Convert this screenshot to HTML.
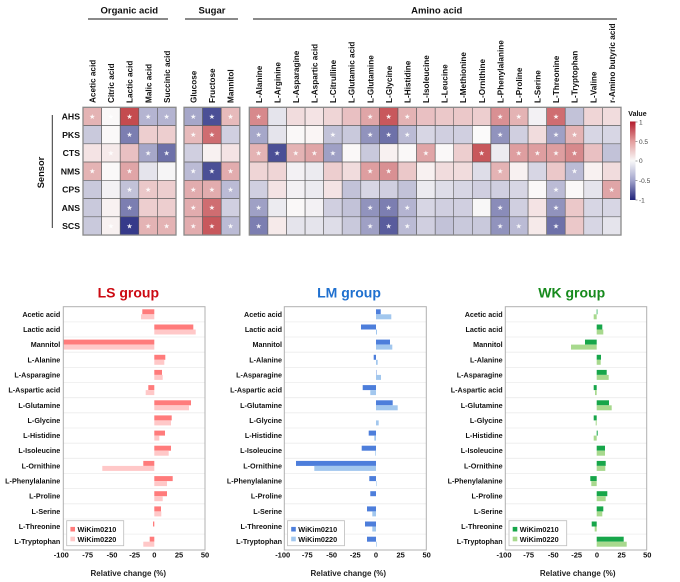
<!DOCTYPE html>
<html><head><meta charset="utf-8">
<style>
html,body{margin:0;padding:0;background:#fff;}
svg{display:block;font-family:"Liberation Sans",Arial,sans-serif;}
.hm rect{stroke:#5a5a5a;stroke-width:0.6;}
.st{fill:#fff;font-family:"DejaVu Sans",sans-serif;font-size:7px;text-anchor:middle;opacity:0.9;}
.cl{font-size:8.2px;font-weight:bold;fill:#111;}
.rl{font-size:8.7px;font-weight:bold;text-anchor:end;fill:#111;}
.gt{font-size:9.5px;font-weight:bold;text-anchor:middle;fill:#111;}
.bl{font-size:7.2px;font-weight:bold;text-anchor:end;fill:#111;}
.tk{font-size:7.5px;font-weight:bold;text-anchor:middle;fill:#111;}
.xl{font-size:8px;font-weight:bold;text-anchor:middle;fill:#222;}
.lg{font-size:7.3px;font-weight:bold;fill:#111;}
.ti{font-size:14px;font-weight:bold;text-anchor:middle;}
.cb{font-size:6.5px;fill:#444;}
.grid line{stroke:#ececec;stroke-width:0.8;}
</style></head>
<body>
<svg width="680" height="582" viewBox="0 0 680 582" xmlns="http://www.w3.org/2000/svg">
<defs>
<linearGradient id="cbg" x1="0" y1="0" x2="0" y2="1">
<stop offset="0" stop-color="#b31b2c"/>
<stop offset="0.25" stop-color="#e39c9c"/>
<stop offset="0.5" stop-color="#f8f8f8"/>
<stop offset="0.75" stop-color="#a2a4cc"/>
<stop offset="1" stop-color="#20237a"/>
</linearGradient>
</defs>

<!-- Group headers -->
<text class="gt" x="129.3" y="13.5">Organic acid</text>
<text class="gt" x="212" y="13.5">Sugar</text>
<text class="gt" x="436.7" y="13.5">Amino acid</text>
<line x1="88" y1="19" x2="168" y2="19" stroke="#444" stroke-width="1.3"/>
<line x1="185" y1="19" x2="238" y2="19" stroke="#444" stroke-width="1.3"/>
<line x1="253" y1="19" x2="617" y2="19" stroke="#444" stroke-width="1.3"/>

<!-- Column labels -->
<text class="cl" transform="translate(95.5,103) rotate(-90)">Acetic acid</text>
<text class="cl" transform="translate(114.1,103) rotate(-90)">Citric acid</text>
<text class="cl" transform="translate(132.7,103) rotate(-90)">Lactic acid</text>
<text class="cl" transform="translate(151.3,103) rotate(-90)">Malic acid</text>
<text class="cl" transform="translate(169.9,103) rotate(-90)">Succinic acid</text>
<text class="cl" transform="translate(196.5,103) rotate(-90)">Glucose</text>
<text class="cl" transform="translate(215.1,103) rotate(-90)">Fructose</text>
<text class="cl" transform="translate(233.7,103) rotate(-90)">Mannitol</text>
<text class="cl" transform="translate(261.8,103) rotate(-90)">L-Alanine</text>
<text class="cl" transform="translate(280.4,103) rotate(-90)">L-Arginine</text>
<text class="cl" transform="translate(299,103) rotate(-90)">L-Asparagine</text>
<text class="cl" transform="translate(317.6,103) rotate(-90)">L-Aspartic acid</text>
<text class="cl" transform="translate(336.1,103) rotate(-90)">L-Citrulline</text>
<text class="cl" transform="translate(354.7,103) rotate(-90)">L-Glutamic acid</text>
<text class="cl" transform="translate(373.3,103) rotate(-90)">L-Glutamine</text>
<text class="cl" transform="translate(391.9,103) rotate(-90)">L-Glycine</text>
<text class="cl" transform="translate(410.5,103) rotate(-90)">L-Histidine</text>
<text class="cl" transform="translate(429.1,103) rotate(-90)">L-Isoleucine</text>
<text class="cl" transform="translate(447.7,103) rotate(-90)">L-Leucine</text>
<text class="cl" transform="translate(466.2,103) rotate(-90)">L-Methionine</text>
<text class="cl" transform="translate(484.8,103) rotate(-90)">L-Ornithine</text>
<text class="cl" transform="translate(503.4,103) rotate(-90)">L-Phenylalanine</text>
<text class="cl" transform="translate(522,103) rotate(-90)">L-Proline</text>
<text class="cl" transform="translate(540.6,103) rotate(-90)">L-Serine</text>
<text class="cl" transform="translate(559.2,103) rotate(-90)">L-Threonine</text>
<text class="cl" transform="translate(577.7,103) rotate(-90)">L-Tryptophan</text>
<text class="cl" transform="translate(596.3,103) rotate(-90)">L-Valine</text>
<text class="cl" transform="translate(614.9,103) rotate(-90)">r-Amino butyric acid</text>

<!-- Sensor label -->
<text transform="translate(44,172.5) rotate(-90)" font-size="9.3" font-weight="bold" text-anchor="middle" fill="#111">Sensor</text>
<line x1="52.3" y1="115" x2="52.3" y2="228" stroke="#333" stroke-width="1"/>

<!-- Row labels -->
<text class="rl" x="80" y="119.5">AHS</text>
<text class="rl" x="80" y="137.8">PKS</text>
<text class="rl" x="80" y="156">CTS</text>
<text class="rl" x="80" y="174.3">NMS</text>
<text class="rl" x="80" y="192.5">CPS</text>
<text class="rl" x="80" y="210.8">ANS</text>
<text class="rl" x="80" y="229">SCS</text>

<!-- Heatmap -->
<g class="hm">
<!-- AHS -->
<g transform="translate(0,107.3)">
<rect x="83" y="0" width="18.6" height="18.25" fill="#e4b3b4"/>
<rect x="101.6" y="0" width="18.6" height="18.25" fill="#faf8f8"/>
<rect x="120.2" y="0" width="18.6" height="18.25" fill="#c44b4f"/>
<rect x="138.8" y="0" width="18.6" height="18.25" fill="#b4b4d1"/>
<rect x="157.4" y="0" width="18.6" height="18.25" fill="#b4b4d1"/>
<rect x="184" y="0" width="18.6" height="18.25" fill="#a6a7c9"/>
<rect x="202.6" y="0" width="18.6" height="18.25" fill="#4b4f96"/>
<rect x="221.2" y="0" width="18.6" height="18.25" fill="#e7babb"/>
<rect x="249.3" y="0" width="18.6" height="18.25" fill="#d7898c"/>
<rect x="267.9" y="0" width="18.6" height="18.25" fill="#e5e4ec"/>
<rect x="286.5" y="0" width="18.6" height="18.25" fill="#f1dcdd"/>
<rect x="305.1" y="0" width="18.6" height="18.25" fill="#f4e3e4"/>
<rect x="323.6" y="0" width="18.6" height="18.25" fill="#efd5d6"/>
<rect x="342.2" y="0" width="18.6" height="18.25" fill="#e9c0c2"/>
<rect x="360.8" y="0" width="18.6" height="18.25" fill="#e0a5a7"/>
<rect x="379.4" y="0" width="18.6" height="18.25" fill="#c8585c"/>
<rect x="398" y="0" width="18.6" height="18.25" fill="#e4b3b4"/>
<rect x="416.6" y="0" width="18.6" height="18.25" fill="#e9c0c2"/>
<rect x="435.2" y="0" width="18.6" height="18.25" fill="#ebc8c9"/>
<rect x="453.7" y="0" width="18.6" height="18.25" fill="#ebc8c9"/>
<rect x="472.3" y="0" width="18.6" height="18.25" fill="#edcecf"/>
<rect x="490.9" y="0" width="18.6" height="18.25" fill="#d99093"/>
<rect x="509.5" y="0" width="18.6" height="18.25" fill="#e4b3b4"/>
<rect x="528.1" y="0" width="18.6" height="18.25" fill="#f3f1f4"/>
<rect x="546.7" y="0" width="18.6" height="18.25" fill="#cf6d71"/>
<rect x="565.2" y="0" width="18.6" height="18.25" fill="#c2c2d8"/>
<rect x="583.8" y="0" width="18.6" height="18.25" fill="#efd5d6"/>
<rect x="602.4" y="0" width="18.6" height="18.25" fill="#f1dcdd"/>
<text class="st" x="92.3" y="11.5">★</text><text class="st" x="110.9" y="11.5">★</text><text class="st" x="129.5" y="11.5">★</text><text class="st" x="148.1" y="11.5">★</text><text class="st" x="166.7" y="11.5">★</text><text class="st" x="193.3" y="11.5">★</text><text class="st" x="211.9" y="11.5">★</text><text class="st" x="230.5" y="11.5">★</text><text class="st" x="258.6" y="11.5">★</text><text class="st" x="370.1" y="11.5">★</text><text class="st" x="388.7" y="11.5">★</text><text class="st" x="407.3" y="11.5">★</text><text class="st" x="500.2" y="11.5">★</text><text class="st" x="518.8" y="11.5">★</text><text class="st" x="556" y="11.5">★</text>
</g>
<!-- PKS -->
<g transform="translate(0,125.55)">
<rect x="83" y="0" width="18.6" height="18.25" fill="#c9c9dc"/>
<rect x="101.6" y="0" width="18.6" height="18.25" fill="#faf8f8"/>
<rect x="120.2" y="0" width="18.6" height="18.25" fill="#7c7eb1"/>
<rect x="138.8" y="0" width="18.6" height="18.25" fill="#edcecf"/>
<rect x="157.4" y="0" width="18.6" height="18.25" fill="#edcecf"/>
<rect x="184" y="0" width="18.6" height="18.25" fill="#e7babb"/>
<rect x="202.6" y="0" width="18.6" height="18.25" fill="#cf6d71"/>
<rect x="221.2" y="0" width="18.6" height="18.25" fill="#d0cfe0"/>
<rect x="249.3" y="0" width="18.6" height="18.25" fill="#a6a7c9"/>
<rect x="267.9" y="0" width="18.6" height="18.25" fill="#e5e4ec"/>
<rect x="286.5" y="0" width="18.6" height="18.25" fill="#faf8f8"/>
<rect x="305.1" y="0" width="18.6" height="18.25" fill="#faf5f5"/>
<rect x="323.6" y="0" width="18.6" height="18.25" fill="#c2c2d8"/>
<rect x="342.2" y="0" width="18.6" height="18.25" fill="#c9c9dc"/>
<rect x="360.8" y="0" width="18.6" height="18.25" fill="#9193bd"/>
<rect x="379.4" y="0" width="18.6" height="18.25" fill="#6e71a9"/>
<rect x="398" y="0" width="18.6" height="18.25" fill="#bbbbd5"/>
<rect x="416.6" y="0" width="18.6" height="18.25" fill="#d7d6e4"/>
<rect x="435.2" y="0" width="18.6" height="18.25" fill="#d0cfe0"/>
<rect x="453.7" y="0" width="18.6" height="18.25" fill="#d0cfe0"/>
<rect x="472.3" y="0" width="18.6" height="18.25" fill="#fbfafa"/>
<rect x="490.9" y="0" width="18.6" height="18.25" fill="#9193bd"/>
<rect x="509.5" y="0" width="18.6" height="18.25" fill="#d0cfe0"/>
<rect x="528.1" y="0" width="18.6" height="18.25" fill="#f1dcdd"/>
<rect x="546.7" y="0" width="18.6" height="18.25" fill="#9fa0c5"/>
<rect x="565.2" y="0" width="18.6" height="18.25" fill="#e4b3b4"/>
<rect x="583.8" y="0" width="18.6" height="18.25" fill="#d7d6e4"/>
<rect x="602.4" y="0" width="18.6" height="18.25" fill="#d7d6e4"/>
<text class="st" x="129.5" y="11.5">★</text><text class="st" x="193.3" y="11.5">★</text><text class="st" x="211.9" y="11.5">★</text><text class="st" x="258.6" y="11.5">★</text><text class="st" x="332.9" y="11.5">★</text><text class="st" x="370.1" y="11.5">★</text><text class="st" x="388.7" y="11.5">★</text><text class="st" x="407.3" y="11.5">★</text><text class="st" x="500.2" y="11.5">★</text><text class="st" x="556" y="11.5">★</text><text class="st" x="574.5" y="11.5">★</text>
</g>
<!-- CTS -->
<g transform="translate(0,143.8)">
<rect x="83" y="0" width="18.6" height="18.25" fill="#f4e3e4"/>
<rect x="101.6" y="0" width="18.6" height="18.25" fill="#f6eaea"/>
<rect x="120.2" y="0" width="18.6" height="18.25" fill="#e9c0c2"/>
<rect x="138.8" y="0" width="18.6" height="18.25" fill="#a6a7c9"/>
<rect x="157.4" y="0" width="18.6" height="18.25" fill="#6e71a9"/>
<rect x="184" y="0" width="18.6" height="18.25" fill="#d0cfe0"/>
<rect x="202.6" y="0" width="18.6" height="18.25" fill="#f8f1f1"/>
<rect x="221.2" y="0" width="18.6" height="18.25" fill="#f4e3e4"/>
<rect x="249.3" y="0" width="18.6" height="18.25" fill="#e4b3b4"/>
<rect x="267.9" y="0" width="18.6" height="18.25" fill="#4b4f96"/>
<rect x="286.5" y="0" width="18.6" height="18.25" fill="#e4b3b4"/>
<rect x="305.1" y="0" width="18.6" height="18.25" fill="#e0a5a7"/>
<rect x="323.6" y="0" width="18.6" height="18.25" fill="#9fa0c5"/>
<rect x="342.2" y="0" width="18.6" height="18.25" fill="#faf8f8"/>
<rect x="360.8" y="0" width="18.6" height="18.25" fill="#c9c9dc"/>
<rect x="379.4" y="0" width="18.6" height="18.25" fill="#f8f1f1"/>
<rect x="398" y="0" width="18.6" height="18.25" fill="#faf8f8"/>
<rect x="416.6" y="0" width="18.6" height="18.25" fill="#e0a5a7"/>
<rect x="435.2" y="0" width="18.6" height="18.25" fill="#faf8f8"/>
<rect x="453.7" y="0" width="18.6" height="18.25" fill="#edcecf"/>
<rect x="472.3" y="0" width="18.6" height="18.25" fill="#c8585c"/>
<rect x="490.9" y="0" width="18.6" height="18.25" fill="#ecebf0"/>
<rect x="509.5" y="0" width="18.6" height="18.25" fill="#de9ea0"/>
<rect x="528.1" y="0" width="18.6" height="18.25" fill="#de9ea0"/>
<rect x="546.7" y="0" width="18.6" height="18.25" fill="#de9ea0"/>
<rect x="565.2" y="0" width="18.6" height="18.25" fill="#d7898c"/>
<rect x="583.8" y="0" width="18.6" height="18.25" fill="#e9c0c2"/>
<rect x="602.4" y="0" width="18.6" height="18.25" fill="#c2c2d8"/>
<text class="st" x="110.9" y="11.5">★</text><text class="st" x="148.1" y="11.5">★</text><text class="st" x="166.7" y="11.5">★</text><text class="st" x="258.6" y="11.5">★</text><text class="st" x="277.2" y="11.5">★</text><text class="st" x="295.8" y="11.5">★</text><text class="st" x="314.4" y="11.5">★</text><text class="st" x="332.9" y="11.5">★</text><text class="st" x="425.9" y="11.5">★</text><text class="st" x="481.6" y="11.5">★</text><text class="st" x="518.8" y="11.5">★</text><text class="st" x="537.4" y="11.5">★</text><text class="st" x="556" y="11.5">★</text><text class="st" x="574.5" y="11.5">★</text>
</g>
<!-- NMS -->
<g transform="translate(0,162.05)">
<rect x="83" y="0" width="18.6" height="18.25" fill="#e4b3b4"/>
<rect x="101.6" y="0" width="18.6" height="18.25" fill="#faf8f8"/>
<rect x="120.2" y="0" width="18.6" height="18.25" fill="#e0a5a7"/>
<rect x="138.8" y="0" width="18.6" height="18.25" fill="#e5e4ec"/>
<rect x="157.4" y="0" width="18.6" height="18.25" fill="#f6f5f6"/>
<rect x="184" y="0" width="18.6" height="18.25" fill="#bbbbd5"/>
<rect x="202.6" y="0" width="18.6" height="18.25" fill="#4b4f96"/>
<rect x="221.2" y="0" width="18.6" height="18.25" fill="#e2acae"/>
<rect x="249.3" y="0" width="18.6" height="18.25" fill="#efd5d6"/>
<rect x="267.9" y="0" width="18.6" height="18.25" fill="#efd5d6"/>
<rect x="286.5" y="0" width="18.6" height="18.25" fill="#f3f1f4"/>
<rect x="305.1" y="0" width="18.6" height="18.25" fill="#ecebf0"/>
<rect x="323.6" y="0" width="18.6" height="18.25" fill="#edcecf"/>
<rect x="342.2" y="0" width="18.6" height="18.25" fill="#f1dcdd"/>
<rect x="360.8" y="0" width="18.6" height="18.25" fill="#de9ea0"/>
<rect x="379.4" y="0" width="18.6" height="18.25" fill="#d99093"/>
<rect x="398" y="0" width="18.6" height="18.25" fill="#ebc8c9"/>
<rect x="416.6" y="0" width="18.6" height="18.25" fill="#f8f1f1"/>
<rect x="435.2" y="0" width="18.6" height="18.25" fill="#f1dcdd"/>
<rect x="453.7" y="0" width="18.6" height="18.25" fill="#f1dcdd"/>
<rect x="472.3" y="0" width="18.6" height="18.25" fill="#dedde8"/>
<rect x="490.9" y="0" width="18.6" height="18.25" fill="#e4b3b4"/>
<rect x="509.5" y="0" width="18.6" height="18.25" fill="#f8f1f1"/>
<rect x="528.1" y="0" width="18.6" height="18.25" fill="#d7d6e4"/>
<rect x="546.7" y="0" width="18.6" height="18.25" fill="#ebc8c9"/>
<rect x="565.2" y="0" width="18.6" height="18.25" fill="#bbbbd5"/>
<rect x="583.8" y="0" width="18.6" height="18.25" fill="#f8f1f1"/>
<rect x="602.4" y="0" width="18.6" height="18.25" fill="#f1dcdd"/>
<text class="st" x="92.3" y="11.5">★</text><text class="st" x="129.5" y="11.5">★</text><text class="st" x="193.3" y="11.5">★</text><text class="st" x="211.9" y="11.5">★</text><text class="st" x="230.5" y="11.5">★</text><text class="st" x="370.1" y="11.5">★</text><text class="st" x="388.7" y="11.5">★</text><text class="st" x="500.2" y="11.5">★</text><text class="st" x="574.5" y="11.5">★</text>
</g>
<!-- CPS -->
<g transform="translate(0,180.3)">
<rect x="83" y="0" width="18.6" height="18.25" fill="#c9c9dc"/>
<rect x="101.6" y="0" width="18.6" height="18.25" fill="#f3f1f4"/>
<rect x="120.2" y="0" width="18.6" height="18.25" fill="#c2c2d8"/>
<rect x="138.8" y="0" width="18.6" height="18.25" fill="#ebc8c9"/>
<rect x="157.4" y="0" width="18.6" height="18.25" fill="#edcecf"/>
<rect x="184" y="0" width="18.6" height="18.25" fill="#e2acae"/>
<rect x="202.6" y="0" width="18.6" height="18.25" fill="#e2acae"/>
<rect x="221.2" y="0" width="18.6" height="18.25" fill="#bbbbd5"/>
<rect x="249.3" y="0" width="18.6" height="18.25" fill="#d0cfe0"/>
<rect x="267.9" y="0" width="18.6" height="18.25" fill="#f4e3e4"/>
<rect x="286.5" y="0" width="18.6" height="18.25" fill="#f3f1f4"/>
<rect x="305.1" y="0" width="18.6" height="18.25" fill="#ecebf0"/>
<rect x="323.6" y="0" width="18.6" height="18.25" fill="#f4e3e4"/>
<rect x="342.2" y="0" width="18.6" height="18.25" fill="#c2c2d8"/>
<rect x="360.8" y="0" width="18.6" height="18.25" fill="#d7d6e4"/>
<rect x="379.4" y="0" width="18.6" height="18.25" fill="#d0cfe0"/>
<rect x="398" y="0" width="18.6" height="18.25" fill="#c2c2d8"/>
<rect x="416.6" y="0" width="18.6" height="18.25" fill="#ecebf0"/>
<rect x="435.2" y="0" width="18.6" height="18.25" fill="#dedde8"/>
<rect x="453.7" y="0" width="18.6" height="18.25" fill="#d7d6e4"/>
<rect x="472.3" y="0" width="18.6" height="18.25" fill="#d0cfe0"/>
<rect x="490.9" y="0" width="18.6" height="18.25" fill="#d0cfe0"/>
<rect x="509.5" y="0" width="18.6" height="18.25" fill="#d7d6e4"/>
<rect x="528.1" y="0" width="18.6" height="18.25" fill="#faf8f8"/>
<rect x="546.7" y="0" width="18.6" height="18.25" fill="#bbbbd5"/>
<rect x="565.2" y="0" width="18.6" height="18.25" fill="#faf8f8"/>
<rect x="583.8" y="0" width="18.6" height="18.25" fill="#e5e4ec"/>
<rect x="602.4" y="0" width="18.6" height="18.25" fill="#e0a5a7"/>
<text class="st" x="129.5" y="11.5">★</text><text class="st" x="148.1" y="11.5">★</text><text class="st" x="193.3" y="11.5">★</text><text class="st" x="211.9" y="11.5">★</text><text class="st" x="230.5" y="11.5">★</text><text class="st" x="556" y="11.5">★</text><text class="st" x="611.7" y="11.5">★</text>
</g>
<!-- ANS -->
<g transform="translate(0,198.55)">
<rect x="83" y="0" width="18.6" height="18.25" fill="#c9c9dc"/>
<rect x="101.6" y="0" width="18.6" height="18.25" fill="#f8f1f1"/>
<rect x="120.2" y="0" width="18.6" height="18.25" fill="#7c7eb1"/>
<rect x="138.8" y="0" width="18.6" height="18.25" fill="#edcecf"/>
<rect x="157.4" y="0" width="18.6" height="18.25" fill="#edcecf"/>
<rect x="184" y="0" width="18.6" height="18.25" fill="#e2acae"/>
<rect x="202.6" y="0" width="18.6" height="18.25" fill="#cf6d71"/>
<rect x="221.2" y="0" width="18.6" height="18.25" fill="#d0cfe0"/>
<rect x="249.3" y="0" width="18.6" height="18.25" fill="#9fa0c5"/>
<rect x="267.9" y="0" width="18.6" height="18.25" fill="#ecebf0"/>
<rect x="286.5" y="0" width="18.6" height="18.25" fill="#faf8f8"/>
<rect x="305.1" y="0" width="18.6" height="18.25" fill="#f3f1f4"/>
<rect x="323.6" y="0" width="18.6" height="18.25" fill="#d0cfe0"/>
<rect x="342.2" y="0" width="18.6" height="18.25" fill="#c2c2d8"/>
<rect x="360.8" y="0" width="18.6" height="18.25" fill="#9193bd"/>
<rect x="379.4" y="0" width="18.6" height="18.25" fill="#7c7eb1"/>
<rect x="398" y="0" width="18.6" height="18.25" fill="#b4b4d1"/>
<rect x="416.6" y="0" width="18.6" height="18.25" fill="#d7d6e4"/>
<rect x="435.2" y="0" width="18.6" height="18.25" fill="#d0cfe0"/>
<rect x="453.7" y="0" width="18.6" height="18.25" fill="#d0cfe0"/>
<rect x="472.3" y="0" width="18.6" height="18.25" fill="#f8f7f7"/>
<rect x="490.9" y="0" width="18.6" height="18.25" fill="#8a8cb9"/>
<rect x="509.5" y="0" width="18.6" height="18.25" fill="#d0cfe0"/>
<rect x="528.1" y="0" width="18.6" height="18.25" fill="#f4e3e4"/>
<rect x="546.7" y="0" width="18.6" height="18.25" fill="#9193bd"/>
<rect x="565.2" y="0" width="18.6" height="18.25" fill="#ebc8c9"/>
<rect x="583.8" y="0" width="18.6" height="18.25" fill="#d7d6e4"/>
<rect x="602.4" y="0" width="18.6" height="18.25" fill="#d7d6e4"/>
<text class="st" x="129.5" y="11.5">★</text><text class="st" x="193.3" y="11.5">★</text><text class="st" x="211.9" y="11.5">★</text><text class="st" x="258.6" y="11.5">★</text><text class="st" x="370.1" y="11.5">★</text><text class="st" x="388.7" y="11.5">★</text><text class="st" x="407.3" y="11.5">★</text><text class="st" x="500.2" y="11.5">★</text><text class="st" x="556" y="11.5">★</text>
</g>
<!-- SCS -->
<g transform="translate(0,216.8)">
<rect x="83" y="0" width="18.6" height="18.25" fill="#c9c9dc"/>
<rect x="101.6" y="0" width="18.6" height="18.25" fill="#f8f1f1"/>
<rect x="120.2" y="0" width="18.6" height="18.25" fill="#363a8a"/>
<rect x="138.8" y="0" width="18.6" height="18.25" fill="#e4b3b4"/>
<rect x="157.4" y="0" width="18.6" height="18.25" fill="#e4b3b4"/>
<rect x="184" y="0" width="18.6" height="18.25" fill="#e2acae"/>
<rect x="202.6" y="0" width="18.6" height="18.25" fill="#c8585c"/>
<rect x="221.2" y="0" width="18.6" height="18.25" fill="#bbbbd5"/>
<rect x="249.3" y="0" width="18.6" height="18.25" fill="#7c7eb1"/>
<rect x="267.9" y="0" width="18.6" height="18.25" fill="#f6eaea"/>
<rect x="286.5" y="0" width="18.6" height="18.25" fill="#e5e4ec"/>
<rect x="305.1" y="0" width="18.6" height="18.25" fill="#e5e4ec"/>
<rect x="323.6" y="0" width="18.6" height="18.25" fill="#dedde8"/>
<rect x="342.2" y="0" width="18.6" height="18.25" fill="#c9c9dc"/>
<rect x="360.8" y="0" width="18.6" height="18.25" fill="#9fa0c5"/>
<rect x="379.4" y="0" width="18.6" height="18.25" fill="#595c9d"/>
<rect x="398" y="0" width="18.6" height="18.25" fill="#bbbbd5"/>
<rect x="416.6" y="0" width="18.6" height="18.25" fill="#d0cfe0"/>
<rect x="435.2" y="0" width="18.6" height="18.25" fill="#c2c2d8"/>
<rect x="453.7" y="0" width="18.6" height="18.25" fill="#c9c9dc"/>
<rect x="472.3" y="0" width="18.6" height="18.25" fill="#c9c9dc"/>
<rect x="490.9" y="0" width="18.6" height="18.25" fill="#9193bd"/>
<rect x="509.5" y="0" width="18.6" height="18.25" fill="#bbbbd5"/>
<rect x="528.1" y="0" width="18.6" height="18.25" fill="#f6eaea"/>
<rect x="546.7" y="0" width="18.6" height="18.25" fill="#6e71a9"/>
<rect x="565.2" y="0" width="18.6" height="18.25" fill="#ebc8c9"/>
<rect x="583.8" y="0" width="18.6" height="18.25" fill="#d7d6e4"/>
<rect x="602.4" y="0" width="18.6" height="18.25" fill="#e5e4ec"/>
<text class="st" x="110.9" y="11.5">★</text><text class="st" x="129.5" y="11.5">★</text><text class="st" x="148.1" y="11.5">★</text><text class="st" x="166.7" y="11.5">★</text><text class="st" x="193.3" y="11.5">★</text><text class="st" x="211.9" y="11.5">★</text><text class="st" x="230.5" y="11.5">★</text><text class="st" x="258.6" y="11.5">★</text><text class="st" x="370.1" y="11.5">★</text><text class="st" x="388.7" y="11.5">★</text><text class="st" x="407.3" y="11.5">★</text><text class="st" x="500.2" y="11.5">★</text><text class="st" x="518.8" y="11.5">★</text><text class="st" x="556" y="11.5">★</text>
</g>
</g>
<!-- heatmap block outlines -->
<rect x="83" y="107.3" width="93" height="127.75" fill="none" stroke="#8a8a8a" stroke-width="1.3"/>
<rect x="184" y="107.3" width="55.8" height="127.75" fill="none" stroke="#8a8a8a" stroke-width="1.3"/>
<rect x="249.3" y="107.3" width="371.7" height="127.75" fill="none" stroke="#8a8a8a" stroke-width="1.3"/>

<!-- Colorbar legend -->
<text x="628.3" y="116" font-size="7px" font-weight="bold" fill="#111">Value</text>
<rect x="630" y="121.5" width="5.5" height="78.5" fill="url(#cbg)"/>
<g stroke="#666" stroke-width="0.6">
<line x1="635.5" y1="122" x2="637.5" y2="122"/>
<line x1="635.5" y1="141.5" x2="637.5" y2="141.5"/>
<line x1="635.5" y1="161" x2="637.5" y2="161"/>
<line x1="635.5" y1="180.5" x2="637.5" y2="180.5"/>
<line x1="635.5" y1="200" x2="637.5" y2="200"/>
</g>
<text class="cb" x="639" y="124.5">1</text>
<text class="cb" x="639" y="144">0.5</text>
<text class="cb" x="639" y="163.2">0</text>
<text class="cb" x="639" y="183">-0.5</text>
<text class="cb" x="639" y="202.3">-1</text>

<!-- ===================== LS group ===================== -->
<text class="ti" x="128.3" y="297.3" fill="#cc0a12">LS group</text>
<g class="grid">
<line x1="63.3" x2="205" y1="321.9" y2="321.9"/><line x1="63.3" x2="205" y1="337" y2="337"/><line x1="63.3" x2="205" y1="352.2" y2="352.2"/><line x1="63.3" x2="205" y1="367.4" y2="367.4"/><line x1="63.3" x2="205" y1="382.5" y2="382.5"/><line x1="63.3" x2="205" y1="397.7" y2="397.7"/><line x1="63.3" x2="205" y1="412.8" y2="412.8"/><line x1="63.3" x2="205" y1="428" y2="428"/><line x1="63.3" x2="205" y1="443.2" y2="443.2"/><line x1="63.3" x2="205" y1="458.3" y2="458.3"/><line x1="63.3" x2="205" y1="473.5" y2="473.5"/><line x1="63.3" x2="205" y1="488.6" y2="488.6"/><line x1="63.3" x2="205" y1="503.8" y2="503.8"/><line x1="63.3" x2="205" y1="519" y2="519"/><line x1="63.3" x2="205" y1="534.1" y2="534.1"/>
</g>
<g fill="#ff7b7b">
<rect x="142.3" y="309.3" width="12" height="5"/>
<rect x="154.3" y="324.5" width="39" height="5"/>
<rect x="63.3" y="339.6" width="91" height="5"/>
<rect x="154.3" y="354.8" width="11" height="5"/>
<rect x="154.3" y="369.9" width="7.7" height="5"/>
<rect x="148.3" y="385.1" width="6" height="5"/>
<rect x="154.3" y="400.3" width="36.7" height="5"/>
<rect x="154.3" y="415.4" width="17.4" height="5"/>
<rect x="154.3" y="430.6" width="10.7" height="5"/>
<rect x="154.3" y="445.7" width="16.7" height="5"/>
<rect x="143.3" y="460.9" width="11" height="5"/>
<rect x="154.3" y="476.1" width="18.4" height="5"/>
<rect x="154.3" y="491.2" width="12.7" height="5"/>
<rect x="154.3" y="506.4" width="6.7" height="5"/>
<rect x="153" y="521.5" width="1.3" height="5"/>
<rect x="149.7" y="536.7" width="4.6" height="5"/>
</g>
<g fill="#ffc8c8">
<rect x="141" y="314.3" width="13.3" height="5"/>
<rect x="154.3" y="329.5" width="41.4" height="5"/>
<rect x="63.3" y="344.6" width="91" height="5"/>
<rect x="154.3" y="359.8" width="10" height="5"/>
<rect x="154.3" y="374.9" width="8.4" height="5"/>
<rect x="145.7" y="390.1" width="8.6" height="5"/>
<rect x="154.3" y="405.3" width="34.7" height="5"/>
<rect x="154.3" y="420.4" width="16.7" height="5"/>
<rect x="154.3" y="435.6" width="5" height="5"/>
<rect x="154.3" y="450.7" width="14.4" height="5"/>
<rect x="102.3" y="465.9" width="52" height="5"/>
<rect x="154.3" y="481.1" width="12.7" height="5"/>
<rect x="154.3" y="496.2" width="8.4" height="5"/>
<rect x="154.3" y="511.4" width="7" height="5"/>
<rect x="143.3" y="541.7" width="11" height="5"/>
</g>
<rect x="63.3" y="306.7" width="141.7" height="243.3" fill="none" stroke="#b0b0b0" stroke-width="1"/>
<g class="bl">
<text x="60.3" y="316.8">Acetic acid</text>
<text x="60.3" y="332">Lactic acid</text>
<text x="60.3" y="347.1">Mannitol</text>
<text x="60.3" y="362.3">L-Alanine</text>
<text x="60.3" y="377.4">L-Asparagine</text>
<text x="60.3" y="392.6">L-Aspartic acid</text>
<text x="60.3" y="407.8">L-Glutamine</text>
<text x="60.3" y="422.9">L-Glycine</text>
<text x="60.3" y="438.1">L-Histidine</text>
<text x="60.3" y="453.2">L-Isoleucine</text>
<text x="60.3" y="468.4">L-Ornithine</text>
<text x="60.3" y="483.6">L-Phenylalanine</text>
<text x="60.3" y="498.7">L-Proline</text>
<text x="60.3" y="513.9">L-Serine</text>
<text x="60.3" y="529">L-Threonine</text>
<text x="60.3" y="544.2">L-Tryptophan</text>
</g>
<g class="tk">
<text x="61.3" y="557.7">-100</text><text x="87.7" y="557.7">-75</text><text x="112" y="557.7">-50</text><text x="134.7" y="557.7">-25</text><text x="154.3" y="557.7">0</text><text x="179" y="557.7">25</text><text x="205" y="557.7">50</text>
</g>
<text class="xl" x="128.3" y="576">Relative change (%)</text>
<rect x="66.7" y="520.7" width="57" height="25" fill="#fff" stroke="#bdbdbd" stroke-width="0.8"/>
<rect x="70.4" y="526.9" width="4.6" height="4.6" fill="#ff7b7b"/>
<rect x="70.4" y="536.7" width="4.6" height="4.6" fill="#ffc8c8"/>
<text class="lg" x="77.5" y="532.2">WiKim0210</text>
<text class="lg" x="77.5" y="542">WiKim0220</text>

<!-- ===================== LM group ===================== -->
<text class="ti" x="349" y="297.3" fill="#1f70cf">LM group</text>
<g class="grid">
<line x1="284.3" x2="426.3" y1="321.9" y2="321.9"/><line x1="284.3" x2="426.3" y1="337" y2="337"/><line x1="284.3" x2="426.3" y1="352.2" y2="352.2"/><line x1="284.3" x2="426.3" y1="367.4" y2="367.4"/><line x1="284.3" x2="426.3" y1="382.5" y2="382.5"/><line x1="284.3" x2="426.3" y1="397.7" y2="397.7"/><line x1="284.3" x2="426.3" y1="412.8" y2="412.8"/><line x1="284.3" x2="426.3" y1="428" y2="428"/><line x1="284.3" x2="426.3" y1="443.2" y2="443.2"/><line x1="284.3" x2="426.3" y1="458.3" y2="458.3"/><line x1="284.3" x2="426.3" y1="473.5" y2="473.5"/><line x1="284.3" x2="426.3" y1="488.6" y2="488.6"/><line x1="284.3" x2="426.3" y1="503.8" y2="503.8"/><line x1="284.3" x2="426.3" y1="519" y2="519"/><line x1="284.3" x2="426.3" y1="534.1" y2="534.1"/>
</g>
<g fill="#4d7edb">
<rect x="376" y="309.3" width="4.7" height="5"/>
<rect x="361" y="324.5" width="15" height="5"/>
<rect x="376" y="339.6" width="14" height="5"/>
<rect x="373.7" y="354.8" width="2.3" height="5"/>
<rect x="376" y="369.9" width="0.4" height="5"/>
<rect x="362.7" y="385.1" width="13.3" height="5"/>
<rect x="376" y="400.3" width="16.7" height="5"/>
<rect x="368.7" y="430.6" width="7.3" height="5"/>
<rect x="361.7" y="445.7" width="14.3" height="5"/>
<rect x="296" y="460.9" width="80" height="5"/>
<rect x="369.3" y="476.1" width="6.7" height="5"/>
<rect x="370.3" y="491.2" width="5.7" height="5"/>
<rect x="367" y="506.4" width="9" height="5"/>
<rect x="365" y="521.5" width="11" height="5"/>
<rect x="367" y="536.7" width="9" height="5"/>
</g>
<g fill="#a2c7ee">
<rect x="376" y="314.3" width="15.3" height="5"/>
<rect x="376" y="329.5" width="1" height="5"/>
<rect x="376" y="344.6" width="16.3" height="5"/>
<rect x="376" y="359.8" width="1.7" height="5"/>
<rect x="376" y="374.9" width="5" height="5"/>
<rect x="370.3" y="390.1" width="5.7" height="5"/>
<rect x="376" y="405.3" width="21.7" height="5"/>
<rect x="376" y="420.4" width="2.7" height="5"/>
<rect x="374.3" y="435.6" width="1.7" height="5"/>
<rect x="375.3" y="450.7" width="0.7" height="5"/>
<rect x="314.3" y="465.9" width="61.7" height="5"/>
<rect x="376" y="481.1" width="0.6" height="5"/>
<rect x="372.3" y="511.4" width="3.7" height="5"/>
<rect x="372.3" y="526.5" width="3.7" height="5"/>
<rect x="376" y="541.7" width="0.7" height="5"/>
</g>
<rect x="284.3" y="306.7" width="142" height="243.3" fill="none" stroke="#b0b0b0" stroke-width="1"/>
<g class="bl">
<text x="282" y="316.8">Acetic acid</text>
<text x="282" y="332">Lactic acid</text>
<text x="282" y="347.1">Mannitol</text>
<text x="282" y="362.3">L-Alanine</text>
<text x="282" y="377.4">L-Asparagine</text>
<text x="282" y="392.6">L-Aspartic acid</text>
<text x="282" y="407.8">L-Glutamine</text>
<text x="282" y="422.9">L-Glycine</text>
<text x="282" y="438.1">L-Histidine</text>
<text x="282" y="453.2">L-Isoleucine</text>
<text x="282" y="468.4">L-Ornithine</text>
<text x="282" y="483.6">L-Phenylalanine</text>
<text x="282" y="498.7">L-Proline</text>
<text x="282" y="513.9">L-Serine</text>
<text x="282" y="529">L-Threonine</text>
<text x="282" y="544.2">L-Tryptophan</text>
</g>
<g class="tk">
<text x="282.7" y="557.7">-100</text><text x="307.3" y="557.7">-75</text><text x="331.7" y="557.7">-50</text><text x="355.3" y="557.7">-25</text><text x="376" y="557.7">0</text><text x="400.7" y="557.7">25</text><text x="426.7" y="557.7">50</text>
</g>
<text class="xl" x="348.3" y="576">Relative change (%)</text>
<rect x="287.5" y="520.7" width="57" height="25" fill="#fff" stroke="#bdbdbd" stroke-width="0.8"/>
<rect x="291.2" y="526.9" width="4.6" height="4.6" fill="#4d7edb"/>
<rect x="291.2" y="536.7" width="4.6" height="4.6" fill="#a2c7ee"/>
<text class="lg" x="298.3" y="532.2">WiKim0210</text>
<text class="lg" x="298.3" y="542">WiKim0220</text>

<!-- ===================== WK group ===================== -->
<text class="ti" x="571.7" y="297.3" fill="#168a1c">WK group</text>
<g class="grid">
<line x1="505.3" x2="646.7" y1="321.9" y2="321.9"/><line x1="505.3" x2="646.7" y1="337" y2="337"/><line x1="505.3" x2="646.7" y1="352.2" y2="352.2"/><line x1="505.3" x2="646.7" y1="367.4" y2="367.4"/><line x1="505.3" x2="646.7" y1="382.5" y2="382.5"/><line x1="505.3" x2="646.7" y1="397.7" y2="397.7"/><line x1="505.3" x2="646.7" y1="412.8" y2="412.8"/><line x1="505.3" x2="646.7" y1="428" y2="428"/><line x1="505.3" x2="646.7" y1="443.2" y2="443.2"/><line x1="505.3" x2="646.7" y1="458.3" y2="458.3"/><line x1="505.3" x2="646.7" y1="473.5" y2="473.5"/><line x1="505.3" x2="646.7" y1="488.6" y2="488.6"/><line x1="505.3" x2="646.7" y1="503.8" y2="503.8"/><line x1="505.3" x2="646.7" y1="519" y2="519"/><line x1="505.3" x2="646.7" y1="534.1" y2="534.1"/>
</g>
<g fill="#17a64a">
<rect x="596.7" y="309.3" width="0.7" height="5"/>
<rect x="596.7" y="324.5" width="5.6" height="5"/>
<rect x="585" y="339.6" width="11.7" height="5"/>
<rect x="596.7" y="354.8" width="4.3" height="5"/>
<rect x="596.7" y="369.9" width="10" height="5"/>
<rect x="593.7" y="385.1" width="3" height="5"/>
<rect x="596.7" y="400.3" width="12.3" height="5"/>
<rect x="593.7" y="415.4" width="3" height="5"/>
<rect x="596.7" y="430.6" width="1" height="5"/>
<rect x="596.7" y="445.7" width="8.3" height="5"/>
<rect x="596.7" y="460.9" width="9" height="5"/>
<rect x="590.3" y="476.1" width="6.4" height="5"/>
<rect x="596.7" y="491.2" width="10.6" height="5"/>
<rect x="596.7" y="506.4" width="6.6" height="5"/>
<rect x="591.7" y="521.5" width="5" height="5"/>
<rect x="596.7" y="536.7" width="27" height="5"/>
</g>
<g fill="#a8d98e">
<rect x="593.7" y="314.3" width="3" height="5"/>
<rect x="596.7" y="329.5" width="6.6" height="5"/>
<rect x="571" y="344.6" width="25.7" height="5"/>
<rect x="596.7" y="359.8" width="4" height="5"/>
<rect x="596.7" y="374.9" width="12" height="5"/>
<rect x="595" y="390.1" width="1.7" height="5"/>
<rect x="596.7" y="405.3" width="15" height="5"/>
<rect x="595.7" y="420.4" width="1" height="5"/>
<rect x="593.7" y="435.6" width="3" height="5"/>
<rect x="596.7" y="450.7" width="8.3" height="5"/>
<rect x="596.7" y="465.9" width="8.6" height="5"/>
<rect x="591.3" y="481.1" width="5.4" height="5"/>
<rect x="596.7" y="496.2" width="9" height="5"/>
<rect x="596.7" y="511.4" width="5.6" height="5"/>
<rect x="594.7" y="526.5" width="2" height="5"/>
<rect x="596.7" y="541.7" width="30" height="5"/>
</g>
<rect x="505.3" y="306.7" width="141.4" height="243.3" fill="none" stroke="#b0b0b0" stroke-width="1"/>
<g class="bl">
<text x="502.7" y="316.8">Acetic acid</text>
<text x="502.7" y="332">Lactic acid</text>
<text x="502.7" y="347.1">Mannitol</text>
<text x="502.7" y="362.3">L-Alanine</text>
<text x="502.7" y="377.4">L-Asparagine</text>
<text x="502.7" y="392.6">L-Aspartic acid</text>
<text x="502.7" y="407.8">L-Glutamine</text>
<text x="502.7" y="422.9">L-Glycine</text>
<text x="502.7" y="438.1">L-Histidine</text>
<text x="502.7" y="453.2">L-Isoleucine</text>
<text x="502.7" y="468.4">L-Ornithine</text>
<text x="502.7" y="483.6">L-Phenylalanine</text>
<text x="502.7" y="498.7">L-Proline</text>
<text x="502.7" y="513.9">L-Serine</text>
<text x="502.7" y="529">L-Threonine</text>
<text x="502.7" y="544.2">L-Tryptophan</text>
</g>
<g class="tk">
<text x="504" y="557.7">-100</text><text x="528.7" y="557.7">-75</text><text x="553.3" y="557.7">-50</text><text x="576.7" y="557.7">-25</text><text x="597" y="557.7">0</text><text x="621.7" y="557.7">25</text><text x="647.3" y="557.7">50</text>
</g>
<text class="xl" x="577.7" y="576">Relative change (%)</text>
<rect x="509" y="520.7" width="57.7" height="25" fill="#fff" stroke="#bdbdbd" stroke-width="0.8"/>
<rect x="512.7" y="526.9" width="4.6" height="4.6" fill="#17a64a"/>
<rect x="512.7" y="536.7" width="4.6" height="4.6" fill="#a8d98e"/>
<text class="lg" x="519.8" y="532.2">WiKim0210</text>
<text class="lg" x="519.8" y="542">WiKim0220</text>
</svg>
</body></html>
